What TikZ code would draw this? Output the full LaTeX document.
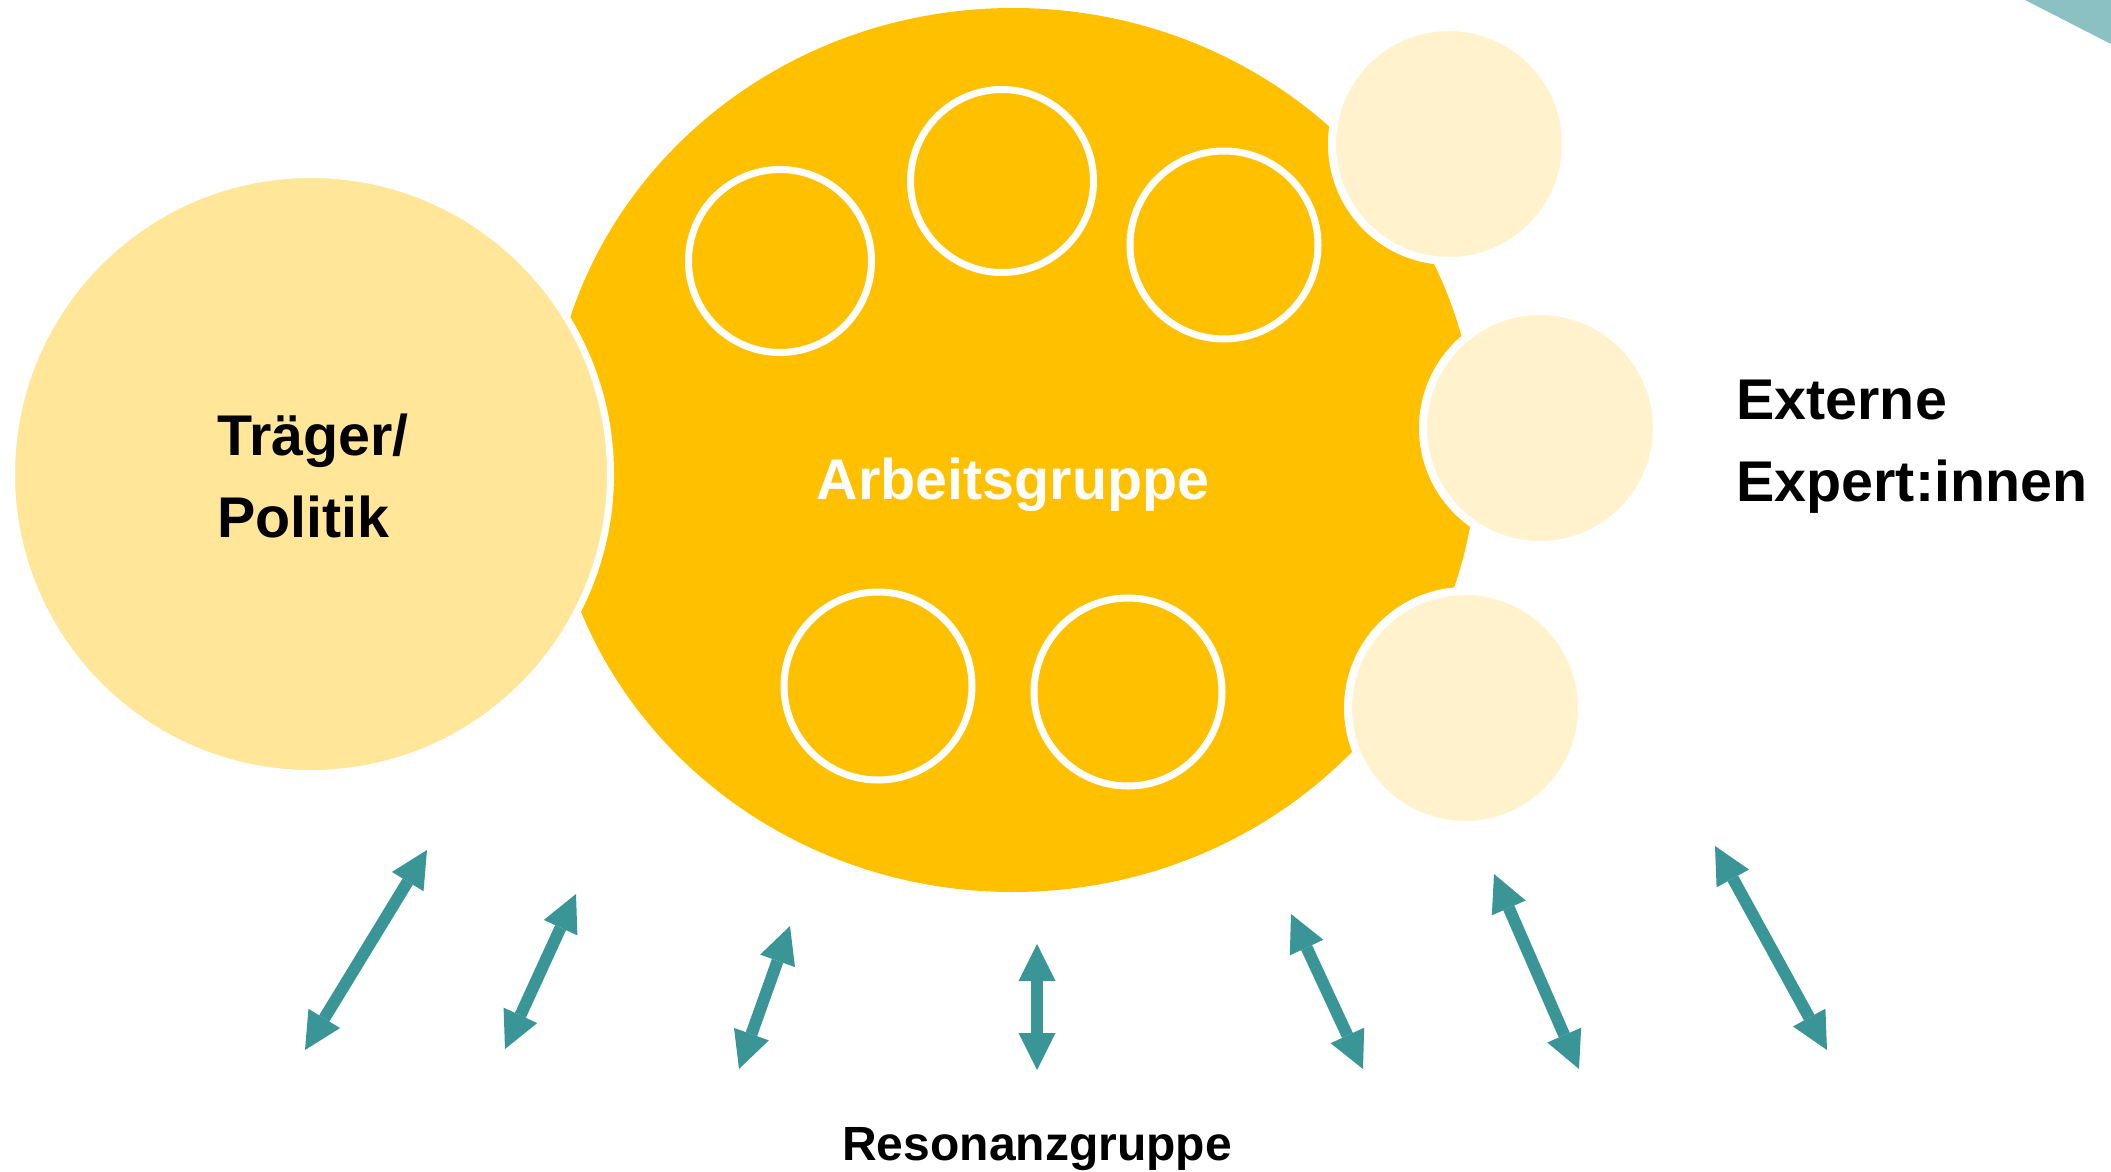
\documentclass[tikz,border=0pt]{standalone}
\usepackage{fontspec}
\setmainfont{Liberation Sans}
\usetikzlibrary{arrows.meta,shapes.geometric}
\definecolor{agyellow}{HTML}{FFC000}
\definecolor{traegerfill}{HTML}{FFE699}
\definecolor{extfill}{HTML}{FFF2CC}
\definecolor{arrowteal}{HTML}{3A9597}
\definecolor{teallight}{HTML}{8BC1C3}
\begin{document}
\begin{tikzpicture}[x=0.5pt,y=-0.5pt,
  bigcirc/.style={ellipse, fill=agyellow, inner sep=0pt, minimum width=464pt, minimum height=442pt},
  traegercirc/.style={circle, fill=traegerfill, draw=white, line width=3.5pt, inner sep=0pt, minimum size=299.5pt},
  extcirc/.style={circle, fill=extfill, draw=white, line width=4pt, inner sep=0pt, minimum size=117pt},
  ring/.style={circle, draw=white, line width=3.5pt, inner sep=0pt, minimum size=91.5pt},
  bigring/.style={ring, minimum size=94pt},
  lbl/.style={font=\bfseries\fontsize{28.7}{34}\selectfont, inner sep=0pt},
  arr/.style={draw=arrowteal, line width=6pt,
    {Triangle[length=18.5pt,width=18.5pt,line width=0pt]}-{Triangle[length=18.5pt,width=18.5pt,line width=0pt]}}
]
\useasboundingbox (0,0) rectangle (2111,1172);
\fill[teallight] (2025,0) -- (2111,0) -- (2111,44) -- cycle;

\node[bigcirc] (ag) at (1013,450) {};
\node[traegercirc] (tr) at (311,474) {};
\node[extcirc] (ex1) at (1449,144) {};
\node[extcirc] (ex2) at (1540,428) {};
\node[extcirc] (ex3) at (1465,708) {};

\node[ring] (r1) at (780,261) {};
\node[ring] (r2) at (1002,181) {};
\node[bigring] (r3) at (1224,245) {};
\node[bigring] (r4) at (878,686) {};
\node[bigring] (r5) at (1128,692) {};

\node[lbl, anchor=base west] (tr1) at (217,455) {Träger/};
\node[lbl, anchor=base west] (tr2) at (217,537) {Politik};
\node[lbl, anchor=base, text=white] (agl) at (1013,499) {Arbeitsgruppe};
\node[lbl, anchor=base west] (ext1) at (1736,419) {Externe};
\node[lbl, anchor=base west] (ext2) at (1736,501) {Expert:innen};
\node[font=\bfseries\fontsize{24}{29}\selectfont, inner sep=0pt, anchor=base] (res) at (1037,1160) {Resonanzgruppe};

\coordinate (a1s) at (305,1050); \coordinate (a1e) at (427,850);
\coordinate (a2s) at (505,1049); \coordinate (a2e) at (576,894);
\coordinate (a3s) at (739,1069); \coordinate (a3e) at (790,926);
\coordinate (a4s) at (1037,1070); \coordinate (a4e) at (1037,944);
\coordinate (a5s) at (1363,1069); \coordinate (a5e) at (1291,914);
\coordinate (a6s) at (1579,1069); \coordinate (a6e) at (1494,874);
\coordinate (a7s) at (1827,1050); \coordinate (a7e) at (1715,846);

\draw[arr] (a1s) -- (a1e);
\draw[arr] (a2s) -- (a2e);
\draw[arr] (a3s) -- (a3e);
\draw[arr] (a4s) -- (a4e);
\draw[arr] (a5s) -- (a5e);
\draw[arr] (a6s) -- (a6e);
\draw[arr] (a7s) -- (a7e);
\end{tikzpicture}
\end{document}
